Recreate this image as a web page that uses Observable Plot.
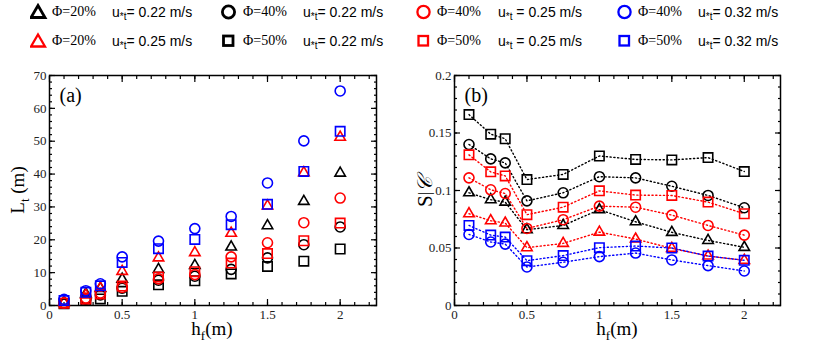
<!DOCTYPE html>
<html><head><meta charset="utf-8">
<script src="https://cdn.jsdelivr.net/npm/d3@7"></script>
<script src="https://cdn.jsdelivr.net/npm/@observablehq/plot@0.6"></script>
<style>
body{margin:0;background:#fff;width:830px;height:355px;overflow:hidden;position:relative;font-family:"Liberation Serif",serif;}
#legend{position:absolute;left:0;top:0;width:830px;height:55px;}
.sym{position:absolute;}
.phi{position:absolute;font-family:"Liberation Serif",serif;font-size:14px;line-height:16px;color:#000;white-space:nowrap;}
.u{position:absolute;font-family:"Liberation Sans",Arial,sans-serif;font-size:14px;line-height:16px;color:#000;white-space:nowrap;}
.u sub{font-size:10px;vertical-align:-3px;}
#pa{position:absolute;left:0;top:55px;}
#pb{position:absolute;left:415px;top:55px;}
</style></head>
<body>
<div id="legend"></div>
<div id="pa"></div>
<div id="pb"></div>
<script>
// abscissa: fetch height h_f (m)
const hf = [0.1, 0.25, 0.35, 0.5, 0.75, 1, 1.25, 1.5, 1.75, 2];

// panel (a): L_t (m)
const LtTriBlack  = [1.0, 3.5, 5.2, 8.0, 11.0, 12.2, 17.8, 24.3, 31.7, 40.3];
const LtTriRed    = [0.9, 3.2, 5.3, 10.4, 14.5, 16.1, 22.0, 30.3, 40.4, 51.2];
const LtCircBlack = [0.7, 2.0, 3.2, 5.3, 7.7, 8.9, 11.0, 14.5, 18.5, 23.9];
const LtSqBlack   = [0.5, 1.6, 2.0, 4.3, 6.3, 7.5, 9.6, 11.9, 13.5, 17.2];
const LtCircRed   = [0.8, 2.3, 3.8, 5.5, 8.1, 9.4, 14.8, 19.1, 25.2, 32.7];
const LtSqRed     = [0.7, 2.0, 3.5, 5.9, 8.7, 10.3, 12.9, 15.8, 19.7, 25.1];
const LtCircBlue  = [1.9, 4.5, 6.6, 14.8, 19.6, 23.4, 27.1, 37.3, 50.1, 65.3];
const LtSqBlue    = [1.5, 4.0, 6.0, 13.1, 17.3, 20.1, 24.6, 30.8, 40.8, 53.0];

// panel (b): C / S
const CsTriBlack  = [0.098, 0.092, 0.0899, 0.0659, 0.0696, 0.0833, 0.0728, 0.0636, 0.0566, 0.0506];
const CsTriRed    = [0.0798, 0.0737, 0.0717, 0.0503, 0.054, 0.0638, 0.0578, 0.0497, 0.043, 0.0393];
const CsCircBlack = [0.140, 0.1275, 0.124, 0.091, 0.098, 0.112, 0.111, 0.1037, 0.0957, 0.085];
const CsSqBlack   = [0.166, 0.149, 0.145, 0.1095, 0.114, 0.130, 0.127, 0.1266, 0.1286, 0.1165];
const CsCircRed   = [0.111, 0.1006, 0.0974, 0.067, 0.0746, 0.0864, 0.0855, 0.0786, 0.0696, 0.0612];
const CsSqRed     = [0.131, 0.1162, 0.1127, 0.079, 0.0855, 0.0997, 0.096, 0.0957, 0.0899, 0.0798];
const CsCircBlue  = [0.0618, 0.0552, 0.0534, 0.0335, 0.0376, 0.0425, 0.0456, 0.0396, 0.0347, 0.030];
const CsSqBlue    = [0.0696, 0.0612, 0.0595, 0.039, 0.0434, 0.0503, 0.0517, 0.05, 0.043, 0.0393];

// tick labels
const xTicks  = [0, 0.5, 1, 1.5, 2];
const yTicksA = [0, 10, 20, 30, 40, 50, 60, 70];
const yTicksB = [0, 0.05, 0.1, 0.15, 0.2];

// legend texts
const phiLabels = ["Φ=20%", "Φ=20%", "Φ=40%", "Φ=50%", "Φ=40%", "Φ=50%", "Φ=40%", "Φ=50%"];
const uValues   = ["0.22", "0.25", "0.22", "0.22", "0.25", "0.25", "0.32", "0.32"];
const colors    = ["#000000", "#ff0000", "#000000", "#000000", "#ff0000", "#ff0000", "#0000ff", "#0000ff"];
const shapes    = ["triangle", "triangle", "circle", "square", "circle", "square", "circle", "square"];
const seriesA   = [LtTriBlack, LtTriRed, LtCircBlack, LtSqBlack, LtCircRed, LtSqRed, LtCircBlue, LtSqBlue];
const seriesB   = [CsTriBlack, CsTriRed, CsCircBlack, CsSqBlack, CsCircRed, CsSqRed, CsCircBlue, CsSqBlue];

const series = phiLabels.map((phi, i) => ({
  phi, u: uValues[i], color: colors[i], shape: shapes[i],
  a: hf.map((h, j) => ({hf: h, v: seriesA[i][j]})),
  b: hf.map((h, j) => ({hf: h, v: seriesB[i][j]}))
}));

const plotSym = {triangle: "triangle2", circle: "circle", square: "square"};
const plotR = {triangle: 5, circle: 5, square: 5.3};

// ---- legend ----
const legend = document.getElementById("legend");
const symX = [31, 221, 416, 617], phiX = [52, 243, 437, 638], uX = [112, 303, 498, 698];
const rowY = [12, 41];
series.forEach((s, i) => {
  const col = Math.floor(i / 2), row = i % 2;
  const cy = rowY[row];
  const svg = d3.create("svg").attr("class", "sym").attr("width", 18).attr("height", 18)
    .style("left", symX[col] - 1 + "px").style("top", cy - 9 + "px");
  const sw = s.color === "#000000" ? 2.8 : 2.3;
  if (s.shape === "triangle") svg.append("polygon").attr("points", "8,2.5 15,14.5 1,14.5");
  else if (s.shape === "circle") svg.append("circle").attr("cx", 8.5).attr("cy", 9).attr("r", 6.1);
  else svg.append("rect").attr("x", 3.5).attr("y", 4).attr("width", 9.5).attr("height", 9.5);
  svg.selectAll("*").attr("fill", "none").attr("stroke", s.color).attr("stroke-width", sw);
  legend.appendChild(svg.node());
  const p = document.createElement("div");
  p.className = "phi"; p.textContent = s.phi;
  p.style.left = phiX[col] + "px"; p.style.top = cy - 8 + "px";
  legend.appendChild(p);
  const u = document.createElement("div");
  u.className = "u";
  u.innerHTML = "u<sub>*t</sub>" + (col === 2 ? " = " : "= ") + s.u + " m/s";
  u.style.left = uX[col] + "px"; u.style.top = cy - 8 + "px";
  legend.appendChild(u);
});

// ---- panels ----
const fmt = d => String(d);
function axes(yTicks, yMinor) {
  const xMinor = d3.range(0, 23).map(i => i / 10);
  const none = () => "";
  return [
    Plot.axisX(xTicks, {anchor: "bottom", tickSize: 0, tickPadding: 4, tickFormat: fmt, label: null, fontSize: 13, color: "#222"}),
    Plot.axisX(xTicks, {anchor: "bottom", tickSize: -6, tickFormat: none, label: null, strokeWidth: 1.2}),
    Plot.axisX(xTicks, {anchor: "top", tickSize: -6, tickFormat: none, label: null, strokeWidth: 1.2}),
    Plot.axisX(xMinor, {anchor: "bottom", tickSize: -3, tickFormat: none, label: null, strokeWidth: 1.2}),
    Plot.axisX(xMinor, {anchor: "top", tickSize: -3, tickFormat: none, label: null, strokeWidth: 1.2}),
    Plot.axisY(yTicks, {anchor: "left", tickSize: 0, tickPadding: 3, tickFormat: fmt, label: null, fontSize: 13, color: "#222"}),
    Plot.axisY(yTicks, {anchor: "left", tickSize: -6, tickFormat: none, label: null, strokeWidth: 1.2}),
    Plot.axisY(yTicks, {anchor: "right", tickSize: -6, tickFormat: none, label: null, strokeWidth: 1.2}),
    Plot.axisY(yMinor, {anchor: "left", tickSize: -3, tickFormat: none, label: null, strokeWidth: 1.2}),
    Plot.axisY(yMinor, {anchor: "right", tickSize: -3, tickFormat: none, label: null, strokeWidth: 1.2})
  ];
}

function dots(key) {
  return series.map(s => Plot.dot(s[key], {
    x: "hf", y: "v", symbol: plotSym[s.shape], r: plotR[s.shape],
    stroke: s.color, strokeWidth: 1.6, fill: "none"
  }));
}

const common = {
  width: 415, height: 300, marginTop: 20, marginBottom: 50,
  style: {fontFamily: "'Liberation Serif', serif", fontSize: "13px", background: "transparent", overflow: "visible"},
  x: {domain: [0, 2.25], label: null}
};

const plotA = Plot.plot({
  ...common, marginLeft: 49, marginRight: 39,
  y: {domain: [0, 70], label: null},
  marks: [
    ...axes(yTicksA, d3.range(0, 71, 2)),
    Plot.frame({stroke: "#000", strokeWidth: 1.5}),
    ...dots("a"),
    Plot.text(["(a)"], {frameAnchor: "top-left", dx: 10, dy: 12, fontSize: 20, fill: "#000"})
  ]
});

const plotB = Plot.plot({
  ...common, marginLeft: 39, marginRight: 50,
  y: {domain: [0, 0.2], label: null},
  marks: [
    ...axes(yTicksB, d3.range(0, 21).map(i => i / 100)),
    Plot.frame({stroke: "#000", strokeWidth: 1.5}),
    ...series.map(s => Plot.line(s.b, {x: "hf", y: "v", stroke: s.color, strokeWidth: 1.4, strokeDasharray: "1.2,2.6"})),
    ...dots("b"),
    Plot.text(["(b)"], {frameAnchor: "top-left", dx: 10, dy: 12, fontSize: 20, fill: "#000"})
  ]
});

document.getElementById("pa").appendChild(plotA);
document.getElementById("pb").appendChild(plotB);

// axis titles with subscripts
function xTitle(svg, cx, base, sub) {
  const t = d3.select(svg).append("text").attr("x", cx).attr("y", 280).attr("text-anchor", "middle")
    .attr("font-family", "'Liberation Serif', serif").attr("font-size", 19).attr("fill", "#000");
  t.append("tspan").text(base);
  t.append("tspan").attr("font-size", 13).attr("dy", 5).text(sub);
  t.append("tspan").attr("dy", -5).text("(m)");
}
xTitle(plotA, 212, "h", "f");
xTitle(plotB, 617 - 415, "h", "f");

const yA = d3.select(plotA).append("text").attr("transform", "translate(24,135) rotate(-90)")
  .attr("text-anchor", "middle").attr("font-family", "'Liberation Serif', serif")
  .attr("font-size", 19).attr("fill", "#000");
yA.append("tspan").text("L");
yA.append("tspan").attr("font-size", 13).attr("dy", 5).text("t");
yA.append("tspan").attr("dy", -5).text(" (m)");

const yB = d3.select(plotB).append("text").attr("transform", "translate(17,137) rotate(-90)")
  .attr("text-anchor", "middle").attr("font-family", "'Liberation Serif', serif")
  .attr("font-size", 21).attr("fill", "#000");
yB.append("tspan").text("S");
yB.append("tspan").attr("font-size", 17).attr("dy", -2).text("|");
yB.append("tspan").attr("dy", 2).attr("font-style", "italic").text("𝒞");
</script>
</body></html>
